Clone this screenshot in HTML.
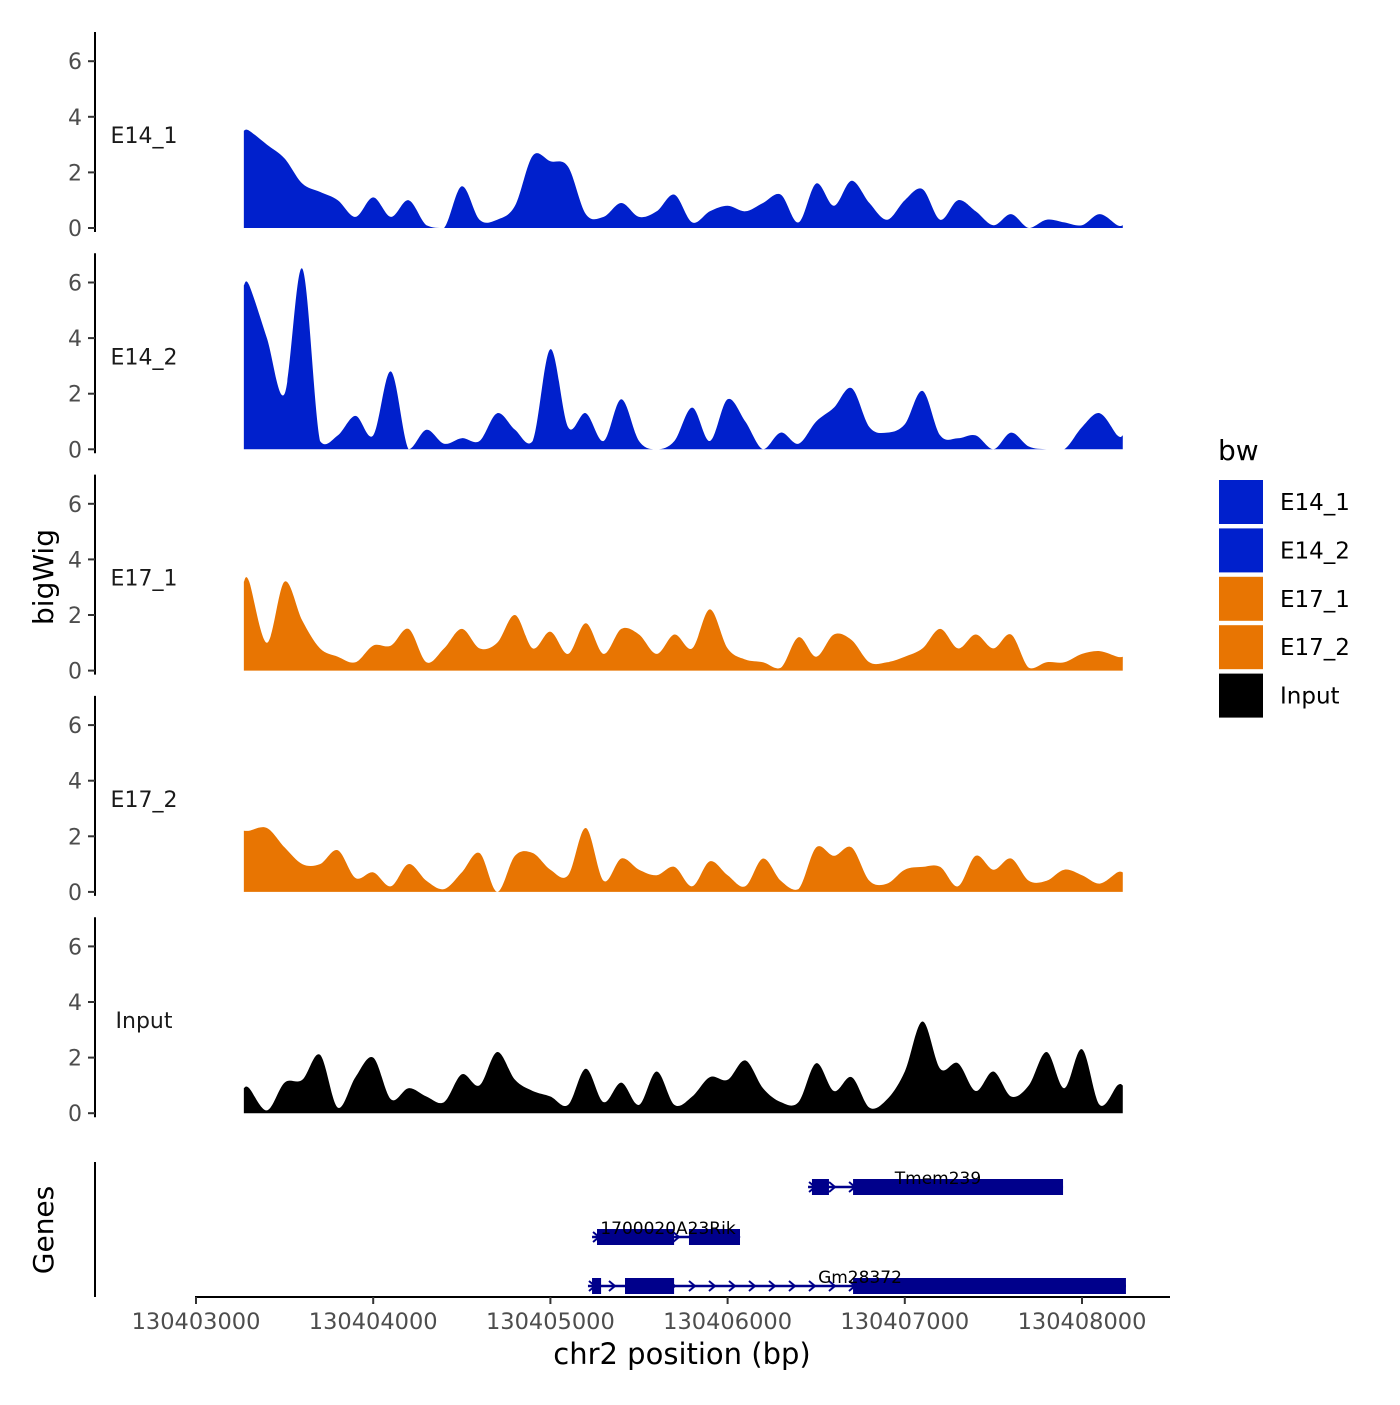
<!DOCTYPE html>
<html><head><meta charset="utf-8"><style>
body{margin:0;background:#fff}
svg text{font-family:"DejaVu Sans","Liberation Sans",sans-serif}
</style></head><body>
<svg id="chart" width="1400" height="1400" xmlns="http://www.w3.org/2000/svg">
<rect width="1400" height="1400" fill="#fff"/>
<g id="tracks"></g>
<g id="genes"></g>
<g id="xaxis"></g>
<text transform="translate(53,577) rotate(-90)" text-anchor="middle" font-size="28">bigWig</text>
<text transform="translate(53,1230) rotate(-90)" text-anchor="middle" font-size="28">Genes</text>
<text x="682" y="1364" text-anchor="middle" font-size="29">chr2 position (bp)</text>
<g id="legend"></g>
</svg>
<script>
const gridKb=[0.3,0.4,0.5,0.6,0.7,0.8,0.9,1.0,1.1,1.2,1.3,1.4,1.5,1.6,1.7,1.8,1.9,2.0,2.1,2.2,2.3,2.4,2.5,2.6,2.7,2.8,2.9,3.0,3.1,3.2,3.3,3.4,3.5,3.6,3.7,3.8,3.9,4.0,4.1,4.2,4.3,4.4,4.5,4.6,4.7,4.8,4.9,5.0,5.1,5.2];
const trackNames=["E14_1","E14_2","E17_1","E17_2","Input"];
const e14_1=[3.5,3.0,2.5,1.6,1.3,1.0,0.4,1.1,0.4,1.0,0.1,0,1.5,0.3,0.3,0.8,2.6,2.4,2.2,0.5,0.4,0.9,0.4,0.6,1.2,0.2,0.6,0.8,0.6,0.9,1.2,0.2,1.6,0.8,1.7,0.9,0.3,1.0,1.4,0.3,1.0,0.6,0.1,0.5,0,0.3,0.2,0.1,0.5,0.1];
const e14_2=[5.9,4.0,2.0,6.5,0.3,0.5,1.2,0.5,2.8,0,0.7,0.2,0.4,0.3,1.3,0.7,0.3,3.6,0.8,1.3,0.3,1.8,0.3,0,0.3,1.5,0.3,1.8,1.0,0,0.6,0.2,1.0,1.5,2.2,0.8,0.6,0.9,2.1,0.5,0.4,0.5,0,0.6,0.1,0,0,0.8,1.3,0.5];
const e17_1=[3.2,1.0,3.2,1.8,0.8,0.5,0.3,0.9,0.9,1.5,0.3,0.8,1.5,0.8,1.0,2.0,0.8,1.4,0.6,1.7,0.6,1.5,1.3,0.6,1.3,0.8,2.2,0.8,0.4,0.3,0.1,1.2,0.5,1.3,1.1,0.3,0.3,0.5,0.8,1.5,0.8,1.3,0.8,1.3,0.1,0.3,0.3,0.6,0.7,0.5];
const e17_2=[2.2,2.3,1.6,1.0,1.0,1.5,0.5,0.7,0.2,1.0,0.4,0.1,0.7,1.4,0,1.3,1.4,0.8,0.6,2.3,0.4,1.2,0.8,0.6,0.9,0.2,1.1,0.6,0.2,1.2,0.4,0.1,1.6,1.3,1.6,0.4,0.3,0.8,0.9,0.9,0.2,1.3,0.8,1.2,0.4,0.4,0.8,0.6,0.3,0.7];
const input=[0.9,0.1,1.1,1.2,2.1,0.2,1.3,2.0,0.5,0.9,0.6,0.4,1.4,1.0,2.2,1.2,0.8,0.6,0.3,1.6,0.4,1.1,0.3,1.5,0.3,0.6,1.3,1.2,1.9,0.9,0.4,0.4,1.8,0.8,1.3,0.2,0.5,1.5,3.3,1.6,1.8,0.8,1.5,0.6,1.0,2.2,0.9,2.3,0.3,1.0];
const seriesValues=[e14_1,e14_2,e17_1,e17_2,input];
const yTicks=[0,2,4,6];
const xTicks=[130403000,130404000,130405000,130406000,130407000,130408000];
const geneNames=["Tmem239","1700020A23Rik","Gm28372"];
const geneStart=[130406454,130405235,130405212];
const geneEnd=[130407893,130406070,130408248];
const geneExons=[[[130406476,130406572],[130406708,130407893]],[[130405263,130405698],[130405782,130406070]],[[130405235,130405286],[130405421,130405698],[130406708,130408248]]];
const NS="http://www.w3.org/2000/svg";
const colors=["#0020CC","#0020CC","#E87502","#E87502","#000000"];
const xs=bp=>196+(bp-130403000)*0.1772;
const xk=kb=>xs(130403000+kb*1000);
function mk(tag,attrs,parent){const e=document.createElementNS(NS,tag);for(const k in attrs)e.setAttribute(k,attrs[k]);parent.appendChild(e);return e;}
const tracks=document.getElementById('tracks');
trackNames.forEach((nm,i)=>{
  const base=228+i*221.3;
  const ys=v=>base-v*27.8;
  const g=mk('g',{},tracks);
  
  
  const ax=mk('line',{x1:95,x2:95,y1:base-196,y2:base+4,stroke:'#000','stroke-width':2},g);
  
  
  yTicks.forEach(t=>{
    mk('line',{x1:88,x2:95,y1:ys(t),y2:ys(t),stroke:'#333','stroke-width':2},g);
    const tx=mk('text',{x:82,y:ys(t)+8,'text-anchor':'end','font-size':22,fill:'#4d4d4d'},g);
    tx.textContent=t;
    
    
  });
  const lb=mk('text',{x:144,y:base-85,'text-anchor':'middle','font-size':22,fill:'#1a1a1a'},g);
  lb.textContent=nm;
  
  
  const vals=seriesValues[i];
  const pts=[[xk(0.27),ys(vals[0])]];
  gridKb.forEach((k,j)=>pts.push([xk(k),ys(vals[j])]));
  pts.push([xk(5.23),ys(vals[vals.length-1])]);
  let d='M'+pts[0][0]+','+base+' L'+pts[0][0]+','+pts[0][1];
  for(let j=0;j<pts.length-1;j++){
    const p0=pts[Math.max(0,j-1)],p1=pts[j],p2=pts[j+1],p3=pts[Math.min(pts.length-1,j+2)];
    const c1x=p1[0]+(p2[0]-p0[0])/6,c1y=Math.min(base,p1[1]+(p2[1]-p0[1])/6);
    const c2x=p2[0]-(p3[0]-p1[0])/6,c2y=Math.min(base,p2[1]-(p3[1]-p1[1])/6);
    d+=` C${c1x.toFixed(1)},${c1y.toFixed(1)} ${c2x.toFixed(1)},${c2y.toFixed(1)} ${p2[0].toFixed(1)},${p2[1].toFixed(1)}`;
  }
  d+=' L'+pts[pts.length-1][0]+','+base+' Z';
  const a=mk('path',{d:d,fill:colors[i]},g);
  
  
});
const xa=document.getElementById('xaxis');
mk('line',{x1:95,x2:95,y1:1162,y2:1297,stroke:'#000','stroke-width':2},xa);
mk('line',{x1:195,x2:1170,y1:1297,y2:1297,stroke:'#000','stroke-width':2},xa);
xTicks.forEach(t=>{
  mk('line',{x1:xs(t),x2:xs(t),y1:1297,y2:1304,stroke:'#333','stroke-width':2},xa);
  const tx=mk('text',{x:xs(t),y:1329,'text-anchor':'middle','font-size':22.5,fill:'#4d4d4d'},xa);
  tx.textContent=t;
  
  
});
const geneY=[1187,1237,1286];
const geneLabelX=[938,668,860];
const gg=document.getElementById('genes');
geneNames.forEach((nm,i)=>{
  const g=mk('g',{},gg);
  
  
  const y=geneY[i];
  mk('line',{x1:xs(geneStart[i]),x2:xs(geneEnd[i]),y1:y,y2:y,stroke:'#00008B','stroke-width':2.5},g);
  for(let x=xs(geneStart[i])+4;x<xs(geneEnd[i]);x+=20){
    mk('path',{d:`M${x-3},${y-5} L${x+3},${y} L${x-3},${y+5}`,fill:'none',stroke:'#00008B','stroke-width':2},g);
  }
  geneExons[i].forEach(e=>mk('rect',{x:xs(e[0]),y:y-8,width:xs(e[1])-xs(e[0]),height:16,fill:'#00008B'},g));
  const tx=mk('text',{x:geneLabelX[i],y:y-3,'text-anchor':'middle','font-size':17,fill:'#000'},g);
  tx.textContent=nm;
  
  
});
const lg=document.getElementById('legend');
const t0=mk('text',{x:1218,y:460,'font-size':28},lg);t0.textContent='bw';
trackNames.forEach((nm,i)=>{
  const y=480+i*48.4;
  const r=mk('rect',{x:1219,y:y,width:44,height:44,fill:colors[i]},lg);
  
  
  const t=mk('text',{x:1280,y:y+30,'font-size':23},lg);
  t.textContent=nm;
  
  
});
</script>
</body></html>
